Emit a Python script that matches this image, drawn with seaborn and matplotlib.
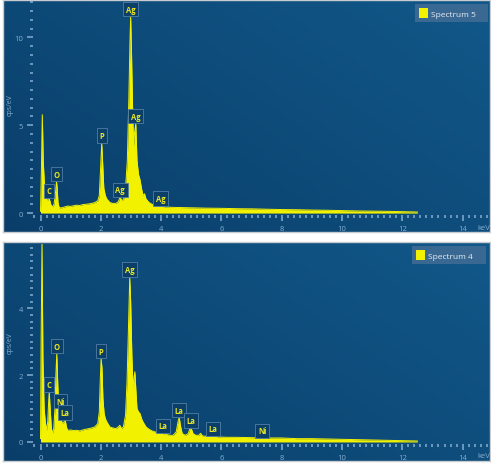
import numpy as np
import pandas as pd
import matplotlib
matplotlib.use("Agg")
import matplotlib.pyplot as plt
from matplotlib.ticker import MultipleLocator
import seaborn as sns

# spectrum 5 (top), keV vs cps/eV
top_energy = [0.0, 0.03, 0.06, 0.09, 0.13, 0.18, 0.22, 0.26, 0.28, 0.31, 0.35, 0.4, 0.45, 0.5,
              0.53, 0.55, 0.58, 0.62, 0.7, 0.8, 0.9, 1.0, 1.1, 1.2, 1.3, 1.4, 1.5, 1.6, 1.7,
              1.8, 1.9, 1.95, 2.0, 2.03, 2.06, 2.1, 2.15, 2.2, 2.3, 2.4, 2.5, 2.58, 2.64, 2.7,
              2.76, 2.82, 2.88, 2.93, 2.97, 2.99, 3.02, 3.06, 3.09, 3.12, 3.16, 3.2, 3.25, 3.3,
              3.35, 3.4, 3.45, 3.5, 3.6, 3.7, 3.8, 3.9, 4.0, 4.1, 4.3, 4.5, 5.0, 5.5, 6.0, 6.5,
              7.0, 7.5, 8.0, 8.5, 9.0, 9.5, 10.0, 10.5, 11.0, 11.5, 12.0, 12.5]
top_counts = [0.1, 2.5, 5.6, 3.0, 1.6, 0.9, 0.7, 0.8, 0.85, 0.7, 0.45, 0.35, 0.5, 1.2,
              1.8, 1.5, 0.6, 0.3, 0.3, 0.35, 0.4, 0.38, 0.42, 0.45, 0.43, 0.48, 0.5, 0.52, 0.55,
              0.6, 0.7, 1.0, 2.8, 4.0, 2.9, 1.4, 1.0, 0.8, 0.6, 0.55, 0.55, 0.65, 0.9, 0.7,
              0.8, 1.4, 3.0, 6.5, 10.0, 11.2, 9.0, 5.5, 3.8, 4.6, 5.1, 3.0, 2.2, 1.9,
              1.4, 1.0, 1.1, 0.8, 0.6, 0.5, 0.45, 0.4, 0.42, 0.35, 0.33, 0.32, 0.3, 0.28, 0.27, 0.25,
              0.24, 0.22, 0.2, 0.19, 0.17, 0.16, 0.14, 0.12, 0.11, 0.1, 0.08, 0.06]

# spectrum 4 (bottom)
bot_energy = [0.0, 0.02, 0.05, 0.08, 0.12, 0.16, 0.2, 0.24, 0.27, 0.29, 0.32, 0.36, 0.4, 0.44,
              0.48, 0.51, 0.54, 0.57, 0.6, 0.64, 0.68, 0.72, 0.78, 0.82, 0.86, 0.9, 1.0, 1.1,
              1.2, 1.3, 1.4, 1.5, 1.6, 1.7, 1.8, 1.9, 1.95, 1.98, 2.01, 2.04, 2.07, 2.11, 2.15,
              2.2, 2.3, 2.4, 2.5, 2.58, 2.63, 2.68, 2.75, 2.82, 2.87, 2.92, 2.96, 2.99, 3.03,
              3.07, 3.1, 3.13, 3.16, 3.2, 3.25, 3.3, 3.35, 3.4, 3.5, 3.6, 3.7, 3.8, 3.9, 4.0,
              4.1, 4.2, 4.3, 4.4, 4.5, 4.56, 4.6, 4.65, 4.7, 4.8, 4.9, 4.96, 5.0, 5.06, 5.15,
              5.25, 5.31, 5.37, 5.5, 5.72, 5.9, 6.2, 6.5, 7.0, 7.5, 8.0, 8.5, 9.0, 9.5, 10.0,
              10.5, 11.0, 11.5, 12.0, 12.5]
bot_counts = [0.1, 3.0, 6.0, 2.5, 1.0, 0.6, 0.35, 0.6, 1.2, 1.5, 1.0, 0.4, 0.27, 0.4,
              1.0, 2.0, 2.65, 1.8, 1.1, 1.0, 0.7, 0.55, 0.6, 0.66, 0.45, 0.35, 0.36, 0.34,
              0.35, 0.33, 0.36, 0.38, 0.4, 0.42, 0.45, 0.55, 0.9, 1.8, 2.5, 2.2, 1.3, 0.85, 0.7,
              0.6, 0.45, 0.42, 0.4, 0.45, 0.5, 0.4, 0.45, 0.8, 1.8, 3.5, 4.94, 4.2, 2.6,
              1.6, 1.9, 2.1, 1.6, 1.0, 0.9, 0.85, 0.7, 0.6, 0.45, 0.38, 0.33, 0.3, 0.28, 0.27,
              0.24, 0.22, 0.2, 0.2, 0.3, 0.6, 0.73, 0.45, 0.25, 0.2, 0.25, 0.42, 0.4, 0.25, 0.2,
              0.2, 0.26, 0.18, 0.17, 0.18, 0.15, 0.14, 0.14, 0.13, 0.12, 0.12, 0.1, 0.1, 0.09, 0.08,
              0.07, 0.06, 0.05, 0.04, 0.03]

# peak labels: element, energy, height of curve under the box
top_elem = ["C", "O", "P", "Ag", "Ag", "Ag", "Ag"]
top_elem_x = [0.28, 0.53, 2.03, 2.64, 2.99, 3.16, 3.98]
top_elem_y = [0.85, 1.8, 4.0, 0.9, 11.2, 5.1, 0.42]

bot_elem = ["C", "O", "Ni", "La", "P", "Ag", "La", "La", "La", "La", "Ni"]
bot_elem_x = [0.29, 0.54, 0.66, 0.82, 2.01, 2.96, 4.06, 4.6, 4.98, 5.72, 7.35]
bot_elem_y = [1.5, 2.65, 1.0, 0.66, 2.5, 4.94, 0.27, 0.73, 0.42, 0.18, 0.12]

spectra = ["Spectrum 5", "Spectrum 4"]

plt.rcParams['font.family'] = ['Open Sans', 'DejaVu Sans']

W, H = 491, 464
fig = plt.figure(figsize=(W / 100, H / 100), dpi=100)
fig.patch.set_facecolor('white')

tick_col = '#86aed0'
yellow = '#f2f200'

def px(x0, y0, x1, y1):
    # pixel box -> figure fraction rect
    return [x0 / W, 1 - y1 / H, (x1 - x0) / W, (y1 - y0) / H]

def panel(rect, ylim, ymaj, ymin, energy, counts, elem, ex, ey, name, leg_box, ylab_y, kev_y):
    bg = fig.add_axes(px(*rect))
    grad = np.linspace(0, 1, 200)[None, :] * 0.6 + np.linspace(1, 0, 100)[:, None] * 0.4
    bg.imshow(grad, aspect='auto', extent=[0, 1, 0, 1],
              cmap=matplotlib.colors.LinearSegmentedColormap.from_list('b', ['#0a3e6a', '#115889']))
    bg.set_xlim(0, 1)
    bg.set_ylim(0, 1)
    bg.set_xticks([])
    bg.set_yticks([])
    for s in bg.spines.values():
        s.set_color('#c8ccd0')
        s.set_linewidth(1.0)

    top_px = rect[1] + 2
    bottom_px = rect[3] - 17
    ax = fig.add_axes(px(33, top_px, 488, bottom_px))
    ax.patch.set_alpha(0)
    df = pd.DataFrame({'keV': energy, 'cps': counts})
    fill = ax.fill_between(df['keV'], df['cps'], 0, color=yellow, lw=0)
    sns.lineplot(data=df, x='keV', y='cps', ax=ax, color=yellow, lw=0.7, legend=False)
    x0_px = 40.5
    kev_px = 30.15
    ax.set_xlim(-(x0_px - 33) / kev_px, (488 - x0_px) / kev_px)
    ax.set_ylim(*ylim)
    for s in ax.spines.values():
        s.set_visible(False)
    ax.xaxis.set_major_locator(MultipleLocator(2))
    ax.xaxis.set_minor_locator(MultipleLocator(0.2))
    ax.yaxis.set_major_locator(MultipleLocator(ymaj))
    ax.yaxis.set_minor_locator(MultipleLocator(ymin))
    ax.tick_params(which='both', colors=tick_col, labelsize=5.5, width=1.1)
    ax.tick_params(which='major', length=4.5, pad=2.5)
    ax.tick_params(which='minor', length=2.2)
    ax.set_xlabel('')
    ax.set_ylabel('')

    for e, xv, yv in zip(elem, ex, ey):
        ax.annotate(e, (xv, yv), xytext=(0, 2), textcoords='offset points',
                    ha='center', va='bottom', fontsize=5.5, color='#e8e820', fontweight='bold',
                    bbox=dict(boxstyle='square,pad=0.35', fc='#0c3f68', ec='#4f7ea6', lw=0.6))

    lx0, ly0, lx1, ly1 = leg_box
    bw = rect[2] - rect[0]
    bh = rect[3] - rect[1]
    leg = bg.legend(handles=[fill], labels=[name], loc='upper left', mode='expand',
                    bbox_to_anchor=((lx0 - rect[0]) / bw, 1 - (ly1 - rect[1]) / bh,
                                    (lx1 - lx0) / bw, (ly1 - ly0) / bh),
                    fontsize=6, frameon=True, fancybox=False, handlelength=1.1,
                    handleheight=1.5, handletextpad=0.4, borderpad=0.45,
                    borderaxespad=0, labelcolor='#e6edf4')
    leg.get_frame().set_facecolor('#3c6b93')
    leg.get_frame().set_edgecolor('none')
    leg.get_frame().set_alpha(0.95)

    fig.text(10 / W, 1 - ylab_y / H, 'cps/eV', rotation=90, ha='center', va='center',
             fontsize=5, color=tick_col)
    fig.text(484 / W, 1 - kev_y / H, 'keV', ha='center', va='center', fontsize=5.5, color=tick_col)
    return ax

panel((3, 1, 490, 233), (-0.11, 12.02), 5, 0.5, top_energy, top_counts,
      top_elem, top_elem_x, top_elem_y, spectra[0], (415, 5, 488, 25), 105, 228)
panel((3, 243, 490, 462), (-0.06, 5.92), 2, 0.2, bot_energy, bot_counts,
      bot_elem, bot_elem_x, bot_elem_y, spectra[1], (412, 247, 486, 265), 343, 457)

fig.savefig('out.png', dpi=100)
